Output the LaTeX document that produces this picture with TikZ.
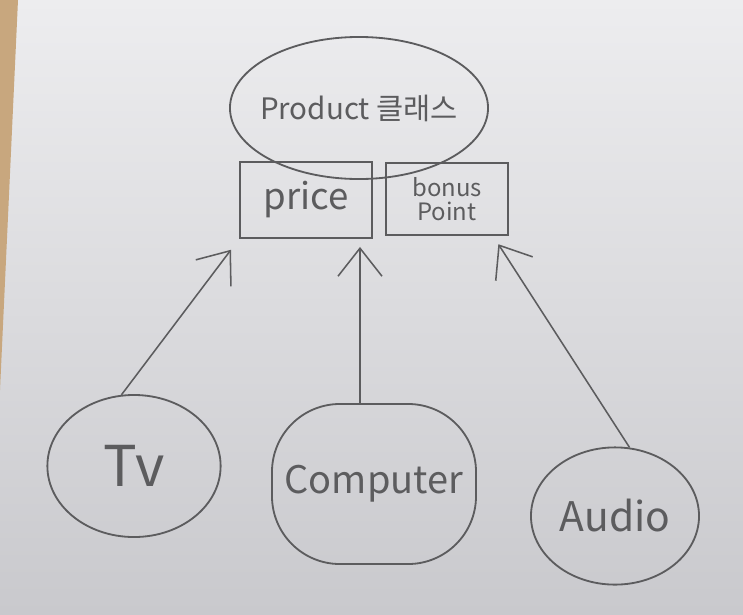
\documentclass[tikz,border=0pt]{standalone}
\usepackage{fontspec}
\newfontfamily\kofont{Noto Sans CJK KR}
\usetikzlibrary{shapes.geometric,arrows.meta}
\definecolor{pencil}{HTML}{5C5C5E}
\definecolor{paperlight}{HTML}{EDEDEF}
\definecolor{paperdark}{HTML}{C9C9CD}
\definecolor{desk}{HTML}{C8A77E}
\begin{document}
\begin{tikzpicture}[
    x=0.025cm, y=-0.025cm,
    cls/.style={ellipse, draw=pencil, line width=1.3pt, inner xsep=-0.25cm, inner ysep=0pt, minimum width=6.45cm, minimum height=3.55cm, font=\kofont\fontsize{21}{25}\selectfont, text=pencil},
    field/.style={rectangle, draw=pencil, line width=1.3pt, align=center, text=pencil, font=\kofont},
    sub/.style={ellipse, draw=pencil, line width=1.3pt, inner sep=0pt, text=pencil, font=\kofont\fontsize{29}{34}\selectfont},
    inherit/.style={draw=pencil, line width=1.1pt, -{Straight Barb[length=0.7cm, width=1.1cm, line width=1.1pt]}}
]
\shade[top color=paperlight, bottom color=paperdark] (0,0) rectangle (743,614);
\fill[desk] (0,0) -- (18,0) -- (0,390) -- cycle;
\node[cls] (product) at (359,108) {Product 클래스};
\node[field, minimum width=3.28cm, minimum height=1.88cm, font=\kofont\fontsize{26}{30}\selectfont] (price) at (306,200) {price};
\node[field, minimum width=3.05cm, minimum height=1.8cm, font=\kofont\fontsize{17}{17}\selectfont] (bonus) at (447,199) {bonus\\Point};
\node[sub, minimum width=4.33cm, minimum height=3.55cm, font=\kofont\fontsize{40}{46}\selectfont] (tv) at (134,466) {Tv};
\node[sub, rectangle, rounded corners=1.7cm, minimum width=5.1cm, minimum height=4.0cm, font=\kofont\fontsize{27}{32}\selectfont] (computer) at (374,484) {Computer};
\node[sub, minimum width=4.2cm, minimum height=3.43cm] (audio) at (615,516) {Audio};
\draw[inherit, shorten >=10pt] (tv.100) -- (price.south west);
\draw[inherit, shorten >=6pt] ([xshift=-0.35cm]computer.north) -- ([xshift=-0.35cm]computer.north |- price.south);
\draw[inherit, shorten >=7pt] (audio.78) -- ([xshift=1.15cm]bonus.south);
\end{tikzpicture}
\end{document}
